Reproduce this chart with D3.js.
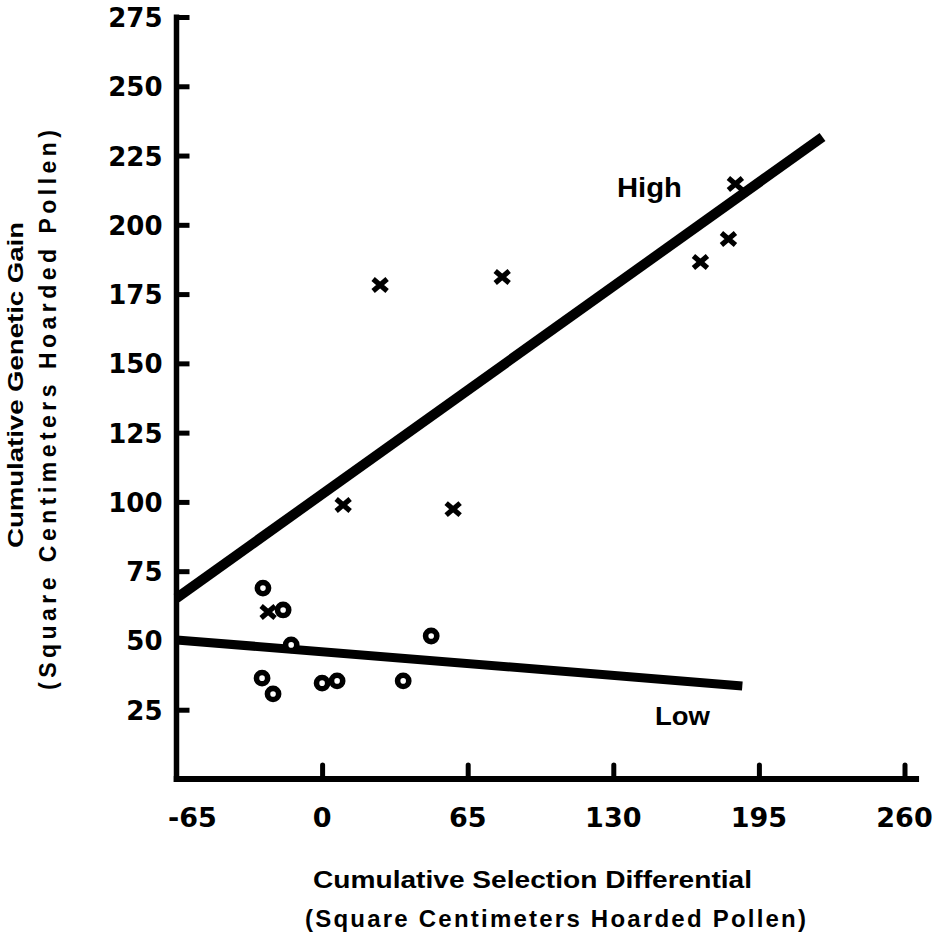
<!DOCTYPE html>
<html>
<head>
<meta charset="utf-8">
<script src="https://cdn.jsdelivr.net/npm/d3@7"></script>
<style>
  html, body { margin: 0; padding: 0; background: #fff; }
  svg { display: block; }
  text { font-family: "Liberation Sans", Arial, Helvetica, sans-serif; font-weight: bold; fill: #000; }
  text.num { font-family: "DejaVu Sans", "Liberation Sans", sans-serif; }
</style>
</head>
<body>
<svg id="chart" width="934" height="945"></svg>
<script>
// ---- data ----
const xTicks = [-65, 0, 65, 130, 195, 260];
const yTicks = [25, 50, 75, 100, 125, 150, 175, 200, 225, 250, 275];

// High line selection (x markers): [selection differential, genetic gain]
const highX = [-24.1, 9.4, 58.5, 25.9, 80.4, 168.9, 181.4, 184.5];
const highY = [60.3, 98.9, 97.4, 178.3, 181.2, 186.6, 194.9, 214.7];

// Low line selection (o markers)
const lowX = [-26.4, -17.4, -13.8, -26.8, -21.9, 0, 6.7, 36.2, 48.7];
const lowY = [68.9, 61.0, 48.4, 36.4, 30.7, 34.6, 35.4, 35.4, 51.6];

// Regression lines (endpoints)
const highLineX = [-65, 223.4];
const highLineY = [65.3, 231.7];
const lowLineX = [-65, 187.6];
const lowLineY = [50.2, 33.6];

const seriesLabels = ["High", "Low"];
const xTitle = ["Cumulative Selection Differential", "(Square Centimeters Hoarded Pollen)"];
const yTitle = ["Cumulative Genetic Gain", "(Square Centimeters Hoarded Pollen)"];

// ---- drawing ----
const svg = d3.select("#chart");
const x = d3.scaleLinear().domain([-65, 260]).range([176.5, 904.5]);
const y = d3.scaleLinear().domain([0, 275]).range([779, 17]);

// Y axis
const yAxis = d3.axisRight(y).tickValues(yTicks).tickSize(13).tickFormat("");
const gy = svg.append("g").attr("transform", `translate(${x(-65)},0)`).call(yAxis);
gy.select(".domain").remove();
gy.selectAll(".tick line").attr("stroke", "#000").attr("stroke-width", 5);
svg.append("line")
  .attr("x1", x(-65)).attr("x2", x(-65))
  .attr("y1", y(275) - 2.5).attr("y2", y(0) + 3)
  .attr("stroke", "#000").attr("stroke-width", 5.5);
svg.selectAll(".ylab").data(yTicks).join("text")
  .attr("class", "ylab num")
  .attr("x", x(-65) - 14)
  .attr("y", d => y(d) + 10)
  .attr("text-anchor", "end")
  .attr("font-size", 26)
  .text(d => d);

// X axis
const xAxis = d3.axisTop(x).tickValues(xTicks.slice(1)).tickSize(14).tickFormat("");
const gx = svg.append("g").attr("transform", `translate(0,${y(0)})`).call(xAxis);
gx.select(".domain").remove();
gx.selectAll(".tick line").attr("stroke", "#000").attr("stroke-width", 5).attr("stroke-linecap", "round");
svg.append("line")
  .attr("x1", x(-65) - 2.75).attr("x2", x(266.5))
  .attr("y1", y(0)).attr("y2", y(0))
  .attr("stroke", "#000").attr("stroke-width", 6);
svg.selectAll(".xlab").data(xTicks).join("text")
  .attr("class", "xlab num")
  .attr("x", d => d === -65 ? x(d) + 16 : x(d))
  .attr("y", 827)
  .attr("text-anchor", "middle")
  .attr("font-size", 27)
  .text(d => d === -65 ? "-65" : d);

// Regression lines
const lineGen = d3.line().x(d => x(d[0])).y(d => y(d[1]));
svg.append("path")
  .attr("d", lineGen(d3.zip(highLineX, highLineY)))
  .attr("stroke", "#000").attr("stroke-width", 10).attr("fill", "none");
svg.append("path")
  .attr("d", lineGen(d3.zip(lowLineX, lowLineY)))
  .attr("stroke", "#000").attr("stroke-width", 9).attr("fill", "none");

// Markers: x
svg.selectAll(".xm").data(d3.zip(highX, highY)).join("path")
  .attr("class", "xm")
  .attr("transform", d => `translate(${x(d[0])},${y(d[1])})`)
  .attr("d", "M-7,-6L7,6M-7,6L7,-6")
  .attr("stroke", "#000").attr("stroke-width", 5.2).attr("fill", "none");

// Markers: o
svg.selectAll(".om").data(d3.zip(lowX, lowY)).join("circle")
  .attr("class", "om")
  .attr("cx", d => x(d[0])).attr("cy", d => y(d[1]))
  .attr("r", 5.6)
  .attr("fill", "#fff").attr("stroke", "#000").attr("stroke-width", 5.6);

// Series labels
svg.append("text").attr("x", 617).attr("y", 197).attr("font-size", 27)
  .attr("textLength", 65).attr("lengthAdjust", "spacingAndGlyphs").text(seriesLabels[0]);
svg.append("text").attr("x", 655).attr("y", 725).attr("font-size", 26)
  .attr("textLength", 55).attr("lengthAdjust", "spacingAndGlyphs").text(seriesLabels[1]);

// X title
svg.append("text").attr("x", 313).attr("y", 888).attr("font-size", 23)
  .attr("textLength", 439).attr("lengthAdjust", "spacingAndGlyphs").text(xTitle[0]);
svg.append("text").attr("x", 305).attr("y", 927).attr("font-size", 24)
  .attr("textLength", 501).attr("lengthAdjust", "spacing").text(xTitle[1]);

// Y title
svg.append("text").attr("transform", "translate(23,548) rotate(-90)").attr("font-size", 22)
  .attr("textLength", 326).attr("lengthAdjust", "spacingAndGlyphs").text(yTitle[0]);
svg.append("text").attr("transform", "translate(56,690) rotate(-90)").attr("font-size", 23)
  .attr("textLength", 560).attr("lengthAdjust", "spacing").text(yTitle[1]);
</script>
</body>
</html>
